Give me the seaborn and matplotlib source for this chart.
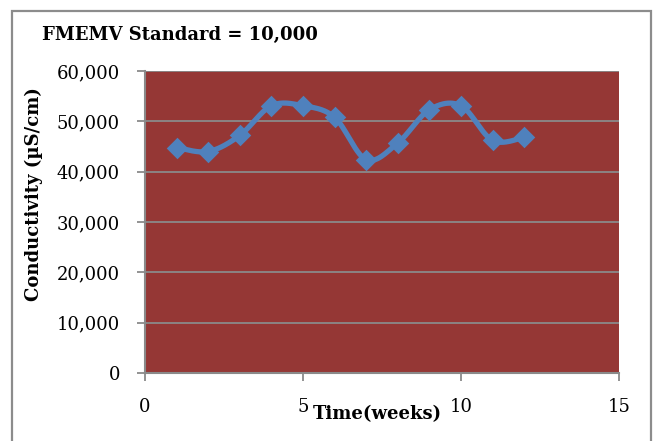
import numpy as np
import pandas as pd
import matplotlib
matplotlib.use("Agg")
import matplotlib.pyplot as plt
from matplotlib.patches import Rectangle
import seaborn as sns

# Weekly conductivity readings
weeks = [1, 2, 3, 4, 5, 6, 7, 8, 9, 10, 11, 12]
conductivity = [44800, 44000, 47200, 53100, 53100, 50800, 42400, 45700, 52300, 53100, 46200, 46800]
y_ticks = [0, 10000, 20000, 30000, 40000, 50000, 60000]
x_ticks = [0, 5, 10, 15]
title = "FMEMV Standard = 10,000"
x_label = "Time(weeks)"
y_label = "Conductivity (µS/cm)"

sns.set_theme(style="white")
plt.rcParams["font.family"] = ["DejaVu Serif"]
plt.rcParams["text.color"] = "black"

df = pd.DataFrame({"week": weeks, "cond": conductivity})


def smooth_curve(x, y, steps=30, tension=0.5):
    """Catmull-Rom style smoothing through every point (spreadsheet 'smoothed line')."""
    x = np.asarray(x, float)
    y = np.asarray(y, float)
    px = np.concatenate([[x[0]], x, [x[-1]]])
    py = np.concatenate([[y[0]], y, [y[-1]]])
    xs, ys = [], []
    t = np.linspace(0, 1, steps)
    for i in range(1, len(px) - 2):
        p0, p1, p2, p3 = (np.array([px[j], py[j]]) for j in (i - 1, i, i + 1, i + 2))
        m1 = tension * (p2 - p0)
        m2 = tension * (p3 - p1)
        h00 = 2 * t**3 - 3 * t**2 + 1
        h10 = t**3 - 2 * t**2 + t
        h01 = -2 * t**3 + 3 * t**2
        h11 = t**3 - t**2
        pts = (np.outer(h00, p1) + np.outer(h10, m1) + np.outer(h01, p2) + np.outer(h11, m2))
        xs.extend(pts[:, 0])
        ys.extend(pts[:, 1])
    return pd.DataFrame({"week": xs, "cond": ys})


curve = smooth_curve(weeks, conductivity)

fig = plt.figure(figsize=(6.57, 4.41), dpi=100)
ax = fig.add_axes([145 / 657, 1 - 373 / 441, (619 - 145) / 657, (373 - 71) / 441])
ax.set_facecolor("#953735")

line_color = "#4F81BD"
ax.plot(curve["week"], curve["cond"], color=line_color, lw=3.8, solid_capstyle="round", zorder=3)
sns.scatterplot(data=df, x="week", y="cond", marker="D", s=120, color=line_color,
                edgecolor=line_color, linewidth=0, ax=ax, zorder=4)

ax.set_xlim(0, 15)
ax.set_ylim(0, 60000)
ax.set_xticks(x_ticks)
ax.set_yticks(y_ticks)
ax.set_yticklabels([f"{v:,}" for v in y_ticks])
ax.set_xticklabels([str(v) for v in x_ticks])
ax.set_xlabel("")
ax.set_ylabel("")

grid_color = "#8a8a8a"
for v in y_ticks[1:]:
    ax.axhline(v, color=grid_color, lw=1.3, zorder=1)

for side in ("top", "right"):
    ax.spines[side].set_visible(False)
for side in ("left", "bottom"):
    ax.spines[side].set_color(grid_color)
    ax.spines[side].set_linewidth(1.5)

ax.tick_params(axis="both", which="major", direction="out", length=6, width=1.3,
               color=grid_color, labelsize=13, labelcolor="black", pad=12,
               left=True, bottom=True)

fig.text(42 / 657, 1 - 35 / 441, title, fontsize=13, fontweight="bold", color="black",
         ha="left", va="center")
fig.text(377 / 657, 1 - 414 / 441, x_label, fontsize=13, fontweight="bold", color="black",
         ha="center", va="center")
fig.text(34 / 657, 1 - 194 / 441, y_label, fontsize=13, fontweight="bold", color="black",
         rotation=90, ha="center", va="center")

# Chart border
fig.patches.append(Rectangle((12 / 657, -0.1), (651 - 12) / 657, 1.1 - 11 / 441,
                             transform=fig.transFigure, fill=False, edgecolor="#8c8c8c",
                             linewidth=1.6))

fig.savefig("out.png", dpi=100)
